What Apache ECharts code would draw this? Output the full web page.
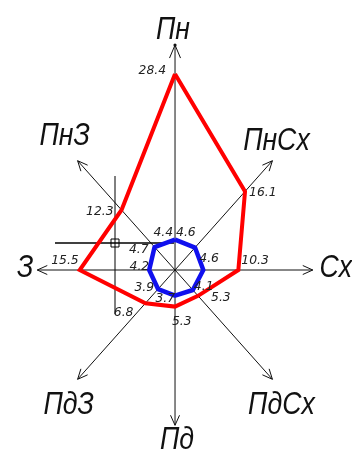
<!DOCTYPE html>
<html><head><meta charset="utf-8">
<script src="https://cdn.jsdelivr.net/npm/echarts@6/dist/echarts.min.js"></script>
<style>html,body{margin:0;padding:0;background:#fff}#c{width:352px;height:457px}</style>
</head><body><div id="c"></div>
<script>
// Wind rose data (8 directions, clockwise from north)
const directions = ['Пн','ПнСх','Сх','ПдСх','Пд','ПдЗ','З','ПнЗ'];
const redValues = [28.4, 16.1, 10.3, 5.3, 5.3, 6.8, 15.5, 12.3];
const blueValues = [4.4, 4.6, 4.6, 4.1, 3.7, 3.9, 4.2, 4.7];
const axisLengths = [32.6, 22.4, 22.4, 22.4, 22.5, 22.4, 22.4, 22.4];

function toXY(v, i) {
  const a = i * Math.PI / 4;
  return [v * Math.sin(a), v * Math.cos(a)];
}
function ring(vals) {
  const pts = vals.map((v, i) => toXY(v, i));
  pts.push(pts[0]);
  return pts;
}

const redOffsets = [[-9,-3,'right'],[4,1,'left'],[3,-9,'left'],[13,2,'left'],[-3,15,'left'],[-12,9,'right'],[-1,-9,'right'],[-8,2,'right']];
const blueOffsets = [[-2,-7,'right'],[-19,-15,'left'],[-4,-11,'left'],[1,-3,'left'],[0,3,'right'],[-4,-1,'right'],[0,-3,'right'],[-6,3,'right']];
const dirOffsets = [[-2,-15],[4,-19],[23,-2],[9,26],[2,15],[-9,26],[-12,-2],[-13,-24]];

const VALFONT = '"DejaVu Sans",sans-serif';
const DIRFONT = '"Liberation Sans","DejaVu Sans",sans-serif';

function labelSeries(vals, offsets) {
  return {
    type: 'custom', coordinateSystem: 'cartesian2d', z: 5,
    data: vals.map((v, i) => toXY(v, i)),
    renderItem: function (params, api) {
      const i = params.dataIndex;
      const p = api.coord([api.value(0), api.value(1)]);
      const o = offsets[i];
      return {
        type: 'text',
        x: p[0] + o[0], y: p[1] + o[1], scaleX: 0.95,
        style: {
          text: vals[i].toFixed(1), x: 0, y: 0,
          align: o[2], verticalAlign: 'middle',
          fontSize: 13, fontStyle: 'italic', fontFamily: VALFONT, fill: '#222'
        }
      };
    }
  };
}

const chart = echarts.init(document.getElementById('c'), null, {renderer: 'canvas'});
chart.setOption({
  animation: false,
  backgroundColor: '#fff',
  grid: {left: 0, right: 0, top: 0, bottom: 0},
  xAxis: {type: 'value', min: -28.46, max: 28.78, show: false},
  yAxis: {type: 'value', min: -27.1, max: 39.13, show: false},
  graphic: [
    {type: 'line', shape: {x1: 55, y1: 243, x2: 174, y2: 243}, style: {stroke: '#000', lineWidth: 1.5}, z: 1},
    {type: 'line', shape: {x1: 115, y1: 176, x2: 115, y2: 314}, style: {stroke: '#000', lineWidth: 1}, z: 1},
    {type: 'rect', shape: {x: 111, y: 239, width: 8, height: 8}, style: {fill: 'none', stroke: '#000', lineWidth: 1}, z: 1}
  ],
  series: [
    {
      type: 'custom', coordinateSystem: 'cartesian2d', z: 1,
      data: axisLengths.map((v, i) => toXY(v, i)),
      renderItem: function (params, api) {
        const i = params.dataIndex;
        const c = api.coord([0, 0]);
        const t = api.coord([api.value(0), api.value(1)]);
        const dx = t[0] - c[0], dy = t[1] - c[1];
        const L = Math.sqrt(dx * dx + dy * dy);
        const ux = dx / L, uy = dy / L;
        const hl = i === 0 ? 13 : 10, hw = i === 0 ? 5.5 : 4.5;
        const bx = t[0] - ux * hl, by = t[1] - uy * hl;
        const o = dirOffsets[i];
        const children = [
          {type: 'line', shape: {x1: c[0], y1: c[1], x2: t[0], y2: t[1]}, style: {stroke: '#111', lineWidth: 1}},
          {type: 'polyline', shape: {points: [[bx - uy * hw, by + ux * hw], [t[0], t[1]], [bx + uy * hw, by - ux * hw]]}, style: {stroke: '#111', lineWidth: 1, fill: null}},
          {type: 'text', x: t[0] + o[0], y: t[1] + o[1], scaleX: 0.86,
            style: {text: directions[i], x: 0, y: 0, align: 'center', verticalAlign: 'middle',
            fontSize: 31, fontStyle: 'italic', fontFamily: DIRFONT, fill: '#111'}}
        ];
        if (i === 0) children.push({type: 'circle', shape: {cx: t[0], cy: t[1], r: 1.6}, style: {fill: '#111'}});
        return {type: 'group', children: children};
      }
    },
    {
      type: 'line', data: ring(redValues), symbol: 'none', z: 3,
      lineStyle: {color: '#ff0000', width: 4, join: 'miter'}
    },
    {
      type: 'line', data: ring(blueValues), symbol: 'none', z: 4,
      lineStyle: {color: '#1010ee', width: 4.5, join: 'round'}
    },
    labelSeries(redValues, redOffsets),
    labelSeries(blueValues, blueOffsets)
  ]
});
</script>
</body></html>
